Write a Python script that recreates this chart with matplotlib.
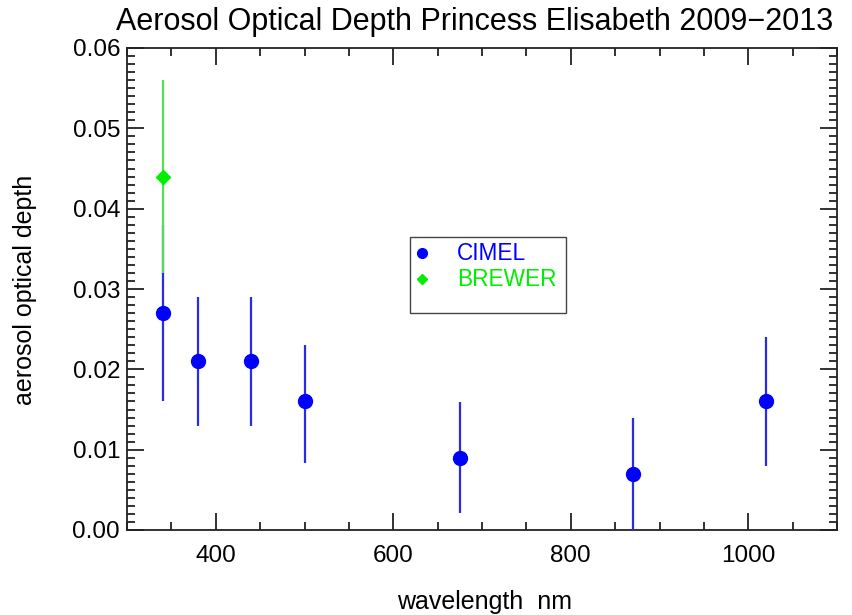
import matplotlib
matplotlib.use("Agg")
import matplotlib.pyplot as plt
from matplotlib.ticker import MultipleLocator, FormatStrFormatter
from matplotlib.patches import Rectangle
from matplotlib.lines import Line2D

plt.rcParams['font.family'] = ['Liberation Sans', 'DejaVu Sans']

# CIMEL data
cimel_wl = [340, 380, 440, 500, 675, 870, 1020]
cimel_aod = [0.027, 0.021, 0.021, 0.016, 0.009, 0.007, 0.016]
cimel_err_lo = [0.011, 0.008, 0.008, 0.0077, 0.0069, 0.0075, 0.008]
cimel_err_hi = [0.011, 0.008, 0.008, 0.007, 0.0069, 0.007, 0.008]

# BREWER data
brewer_wl = [340]
brewer_aod = [0.044]
brewer_err = [0.012]

title = "Aerosol Optical Depth Princess Elisabeth 2009\u22122013"
xlabel = "wavelength  nm"
ylabel = "aerosol optical depth"

fig = plt.figure(figsize=(8.53, 6.15), dpi=100)
ax = fig.add_axes([127/853, 1-530/615, (837-127)/853, (530-48)/615])

ax.errorbar(cimel_wl, cimel_aod, yerr=[cimel_err_lo, cimel_err_hi], fmt='o',
            color='#0000ff', ecolor='#2a2ae8', elinewidth=1.6, capsize=0,
            markersize=10, zorder=3)
ax.errorbar(brewer_wl, brewer_aod, yerr=brewer_err, fmt='D',
            color='#00ee00', ecolor='#55dd55', elinewidth=1.6, capsize=0,
            markersize=7, zorder=4)

ax.set_xlim(300, 1100)
ax.set_ylim(0, 0.06)
ax.xaxis.set_major_locator(MultipleLocator(200))
ax.xaxis.set_minor_locator(MultipleLocator(50))
ax.yaxis.set_major_locator(MultipleLocator(0.01))
ax.yaxis.set_minor_locator(MultipleLocator(0.001))
ax.yaxis.set_major_formatter(FormatStrFormatter('%.2f'))

ax.tick_params(which='both', direction='in', top=True, right=True,
               color='#222222', width=1.3)
ax.tick_params(which='major', length=12, labelsize=17.5)
ax.tick_params(axis='x', which='major', pad=11)
ax.tick_params(axis='y', which='major', pad=5)
ax.tick_params(which='minor', length=6)
for s in ax.spines.values():
    s.set_linewidth(1.3)
    s.set_color('#222222')

fig.text(475/853, 1-22/615, title, ha='center', va='center', fontsize=22)
fig.text(485/853, 1-602/615, xlabel, ha='center', va='center', fontsize=18)
fig.text(25/853, 1-290/615, ylabel, ha='center', va='center', fontsize=18,
         rotation=90)

# legend box
rect = Rectangle((410/853, 1-313/615), (566-410)/853, (313-237)/615,
                 transform=fig.transFigure, fill=False, edgecolor='#444444',
                 linewidth=1.0)
fig.add_artist(rect)
fig.add_artist(Line2D([422/853], [1-253/615], marker='o', color='#0000ff',
                      markersize=7, transform=fig.transFigure))
fig.add_artist(Line2D([422/853], [1-279/615], marker='D', color='#00ee00',
                      markersize=5, transform=fig.transFigure))
fig.text(457/853, 1-253/615, "CIMEL", color='#0000ff', fontsize=16.3,
         va='center', ha='left')
fig.text(457/853, 1-279/615, "BREWER", color='#00ee00', fontsize=16.3,
         va='center', ha='left')

fig.savefig("out.png", dpi=100)
